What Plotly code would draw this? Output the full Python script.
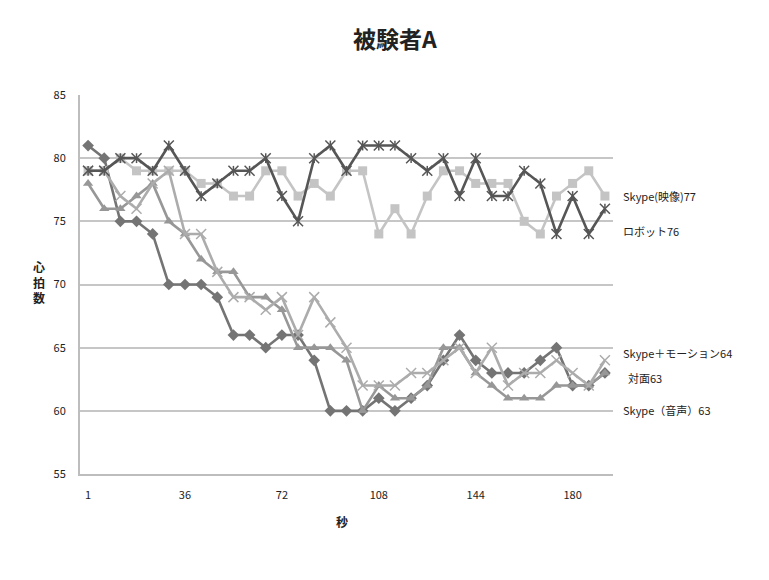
import plotly.graph_objects as go

# Heart rate of subject A, sampled every 6 seconds
seconds = [1] + [6 * k for k in range(1, 33)]
tick_labels = ["1", "36", "72", "108", "144", "180"]
tick_index = [0, 6, 12, 18, 24, 30]

face_to_face = [81, 80, 75, 75, 74, 70, 70, 70, 69, 66, 66, 65, 66, 66, 64, 60,
                60, 60, 61, 60, 61, 62, 64, 66, 64, 63, 63, 63, 64, 65, 62, 62, 63]
skype_video = [79, 79, 80, 79, 79, 79, 79, 78, 78, 77, 77, 79, 79, 77, 78, 77,
               79, 79, 74, 76, 74, 77, 79, 79, 78, 78, 78, 75, 74, 77, 78, 79, 77]
skype_voice = [78, 76, 76, 77, 78, 75, 74, 72, 71, 71, 69, 69, 68, 65, 65, 65,
               64, 60, 62, 61, 61, 62, 65, 65, 63, 62, 61, 61, 61, 62, 62, 62, 63]
skype_motion = [79, 79, 77, 76, 78, 79, 74, 74, 71, 69, 69, 68, 69, 66, 69, 67,
                65, 62, 62, 62, 63, 63, 64, 65, 63, 65, 62, 63, 63, 64, 63, 62, 64]
robot = [79, 79, 80, 80, 79, 81, 79, 77, 78, 79, 79, 80, 77, 75, 80, 81,
         79, 81, 81, 81, 80, 79, 80, 77, 80, 77, 77, 79, 78, 74, 77, 74, 76]

# name, values, colour, marker symbol, marker size, extra overlay symbol
series = [
    ("対面", face_to_face, "#747474", "diamond", 9, None),
    ("Skype(映像)", skype_video, "#c4c4c4", "square", 9, None),
    ("Skype（音声）", skype_voice, "#979797", "triangle-up", 9, None),
    ("Skype＋モーション", skype_motion, "#acacac", "x-thin-open", 10, None),
    ("ロボット", robot, "#565656", "x-thin-open", 10, "line-ns-open"),
]

# End-of-line label placement (y in data units, x offset in px)
end_labels = {
    "Skype(映像)": (77.0, 8),
    "ロボット": (74.2, 8),
    "Skype＋モーション": (64.6, 8),
    "対面": (62.6, 13),
    "Skype（音声）": (60.1, 8),
}

font_jp = "Noto Sans CJK JP"
x_idx = list(range(len(seconds)))

fig = go.Figure()
for name, vals, color, symbol, size, overlay in series:
    open_marker = symbol.endswith("open")
    fig.add_trace(go.Scatter(
        x=x_idx, y=vals, name=name, mode="lines+markers",
        line=dict(color=color, width=2.6),
        marker=dict(symbol=symbol, size=size, color=color,
                    line=dict(color=color, width=1.5 if open_marker else 0)),
        customdata=seconds,
        hovertemplate="%{customdata}秒: %{y}<extra>" + name + "</extra>",
    ))
    if overlay:
        # star marker = x plus a short vertical stroke
        fig.add_trace(go.Scatter(
            x=x_idx, y=vals, mode="markers", hoverinfo="skip",
            marker=dict(symbol=overlay, size=7, color=color,
                        line=dict(color=color, width=1.5)),
        ))

for name, vals, color, symbol, size, overlay in series:
    ypos, xshift = end_labels[name]
    fig.add_annotation(
        x=1.0, xref="paper", y=ypos, yref="y", xanchor="left", yanchor="middle",
        xshift=xshift, showarrow=False, text=f"{name}{vals[-1]}",
        font=dict(family=font_jp, size=11, color="#222222"),
    )

W, H = 769, 580
L, R, T, B = 80, 156, 95, 106
pw, ph = W - L - R, H - T - B


def px_note(px, py, text, size):
    """Place a centred text at a pixel position of the page."""
    fig.add_annotation(
        x=(px - L) / pw, y=(H - B - py) / ph, xref="paper", yref="paper",
        xanchor="center", yanchor="middle", showarrow=False, text=text,
        font=dict(family=font_jp, size=size, color="#222222"),
    )


# Title and axis titles
px_note(395, 38, "<b>被験者A</b>", 23)
px_note(39, 282, "<b>心<br>拍<br>数</b>", 12)
px_note(342, 521, "<b>秒</b>", 12)

fig.update_layout(
    width=W, height=H,
    margin=dict(l=L, r=R, t=T, b=B),
    paper_bgcolor="white", plot_bgcolor="white",
    showlegend=False,
    font=dict(family=font_jp, color="#333333"),
)
fig.update_xaxes(
    range=[-0.5, len(seconds) - 0.5],
    tickmode="array", tickvals=tick_index, ticktext=tick_labels,
    tickfont=dict(size=11, color="#222222"),
    showgrid=False, zeroline=False,
    showline=True, linecolor="#bdbdbd", linewidth=2,
    ticks="outside", ticklen=10, tickcolor="rgba(0,0,0,0)",
)
fig.update_yaxes(
    range=[55, 85], dtick=5, tick0=55,
    tickfont=dict(size=11, color="#222222"),
    showgrid=True, gridcolor="#c6c6c6", gridwidth=1.6,
    zeroline=False,
    showline=True, linecolor="#bdbdbd", linewidth=2,
    ticks="outside", ticklen=10, tickcolor="rgba(0,0,0,0)",
)

fig.write_html("out.html")
